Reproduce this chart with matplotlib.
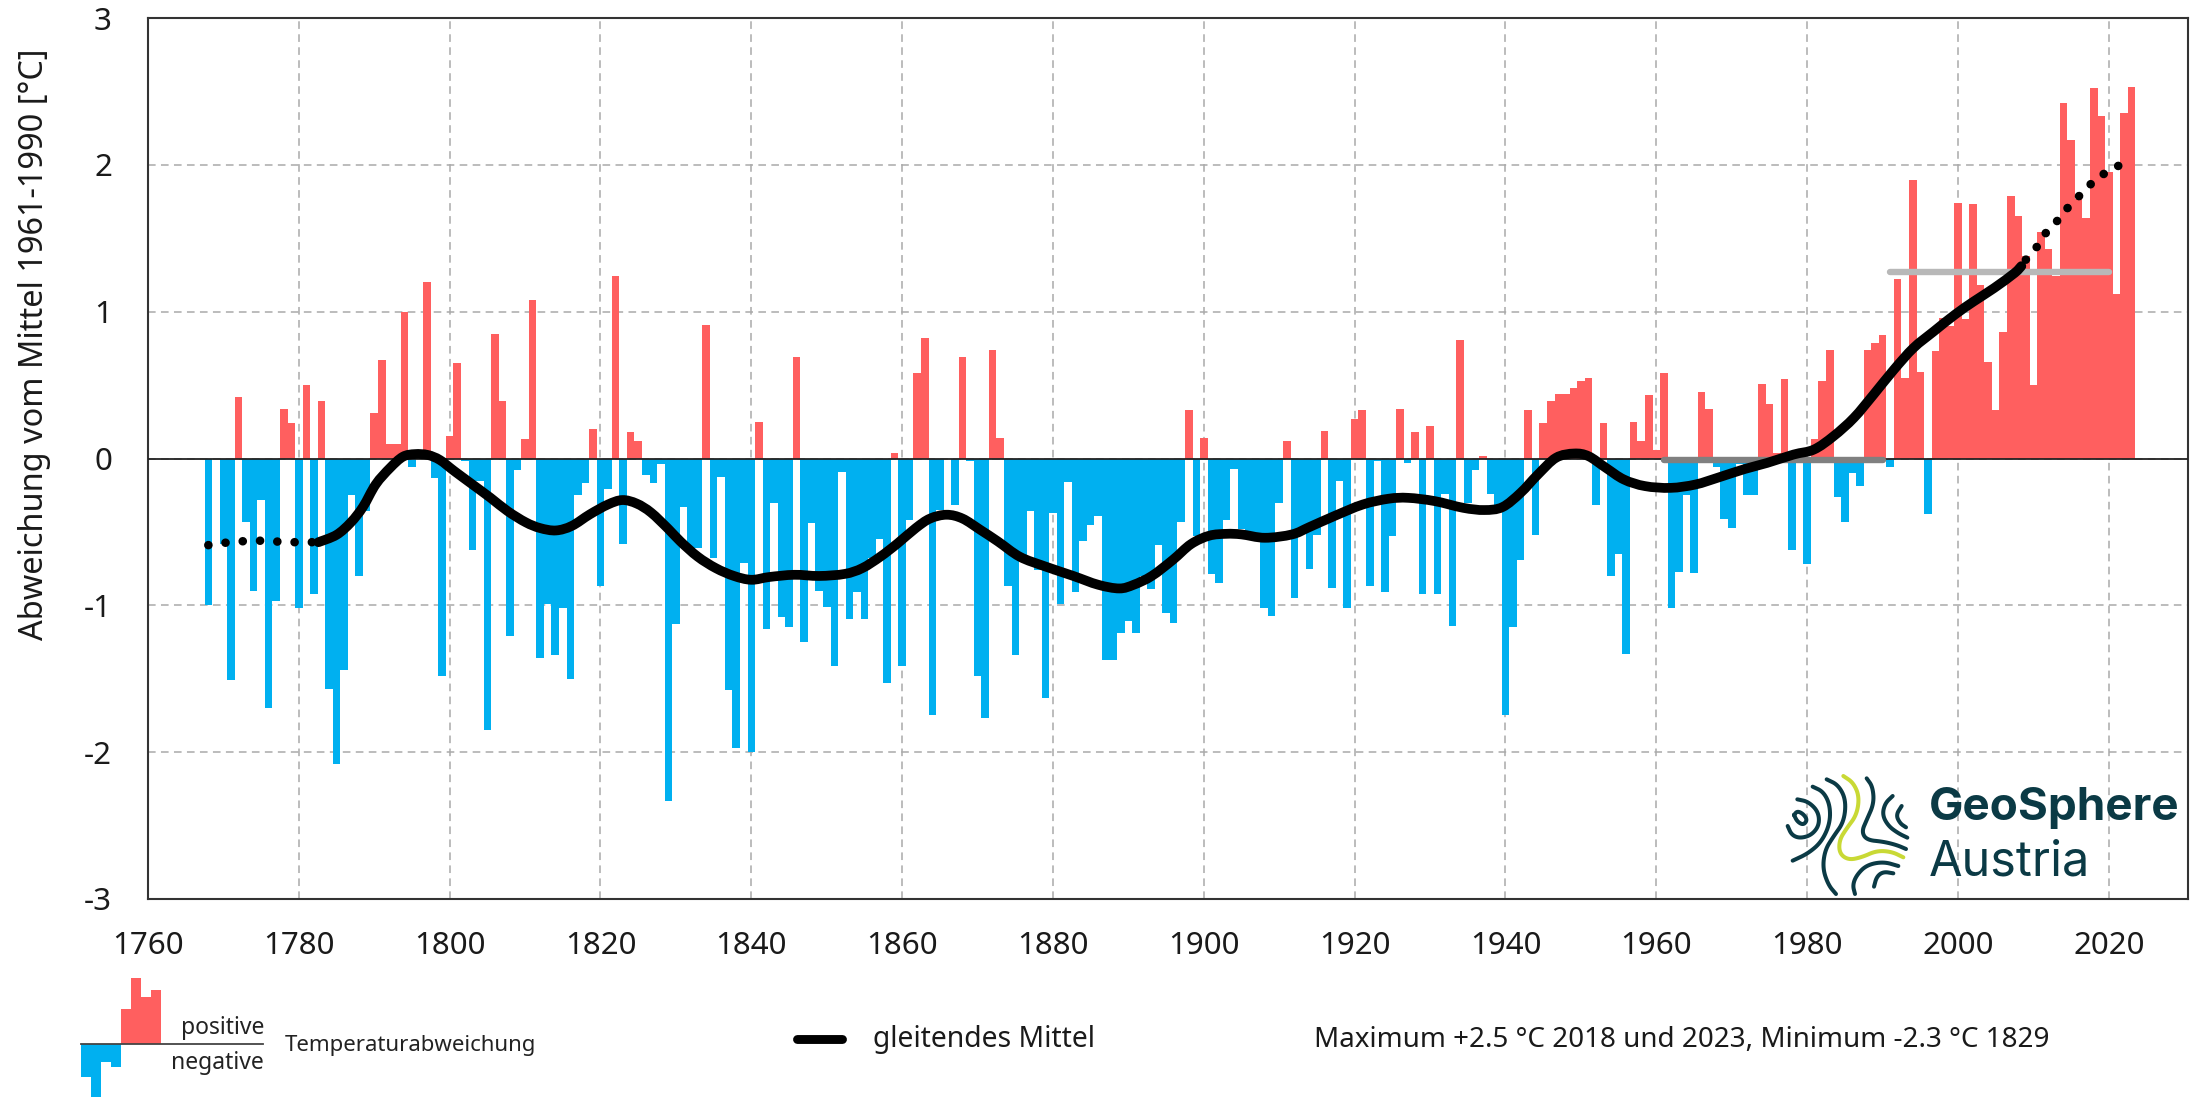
import numpy as np
import matplotlib
matplotlib.use('Agg')
import matplotlib.pyplot as plt
from matplotlib.path import Path
from matplotlib.patches import PathPatch

plt.rcParams['font.family'] = ['Noto Sans', 'DejaVu Sans']
plt.rcParams['axes.unicode_minus'] = False

W, H = 2190, 1097

# yearly anomaly, one row per decade, first row starts 1768
years = np.arange(1768, 2024)
anomaly = [
    -1.0, 0, -.58, -1.51, .42, -.43, -.9, -.28, -1.7, -.97, .34, .24,
    -1.02, .5, -.92, .39, -1.57, -2.08, -1.44, -.25, -.8, -.36,
    .31, .67, .1, .1, 1.0, -.06, 0, 1.2, -.13, -1.48,
    .15, .65, -.02, -.62, -.15, -1.85, .85, .39, -1.21, -.08,
    .13, 1.08, -1.36, -.99, -1.34, -1.02, -1.5, -.25, -.17, .2,
    -.87, -.21, 1.24, -.58, .18, .12, -.11, -.17, -.04, -2.33,
    -1.13, -.33, -.64, -.61, .91, -.68, -.125, -1.58, -1.97, -.71,
    -2.0, .25, -1.16, -.3, -1.08, -1.15, .69, -1.25, -.44, -.9,
    -1.01, -1.41, -.09, -1.09, -.91, -1.09, -.68, -.55, -1.53, .04,
    -1.41, -.42, .58, .82, -1.75, -.35, 0, -.32, .69, -.02,
    -1.48, -1.77, .74, .14, -.87, -1.34, -.7, -.36, -.76, -1.63,
    -.37, -.99, -.16, -.91, -.56, -.45, -.39, -1.37, -1.37, -1.19,
    -1.11, -1.19, -.8, -.89, -.59, -1.05, -1.12, -.43, .33, -.53,
    .14, -.79, -.85, -.42, -.07, -.48, -.5, -.52, -1.02, -1.07,
    -.3, .12, -.95, -.51, -.75, -.52, .19, -.88, -.15, -1.02,
    .27, .33, -.87, -.02, -.91, -.53, .34, -.03, .18, -.92,
    .22, -.92, -.24, -1.14, .81, -.3, -.08, .02, -.24, -.34,
    -1.75, -1.15, -.69, .33, -.52, .24, .39, .44, .44, .48,
    .53, .55, -.32, .24, -.8, -.65, -1.33, .25, .12, .43,
    .06, .58, -1.02, -.77, -.25, -.78, .45, .34, -.06, -.41,
    -.47, -.04, -.25, -.25, .51, .37, .04, .54, -.62, 0,
    -.72, .13, .53, .74, -.26, -.43, -.1, -.19, .74, .79,
    .84, -.06, 1.22, .55, 1.9, .59, -.38, .73, .96, .9,
    1.74, .95, 1.73, 1.18, .66, .33, .86, 1.79, 1.65, 1.38,
    .5, 1.54, 1.43, 1.24, 2.42, 2.17, 1.77, 1.64, 2.52, 2.33,
    1.95, 1.12, 2.35, 2.53,
]
anomaly = np.array(anomaly)
assert len(anomaly) == len(years)

# moving average
start_x = [1768, 1770, 1772, 1774, 1776, 1778, 1780, 1782.6]
start_y = [-.59, -.575, -.565, -.56, -.56, -.57, -.57, -.57]
mid_x = [1782.6, 1785, 1786.9, 1788.5, 1790.2, 1792.1, 1793.8, 1795.4, 1797.1, 1798.7,
         1800.6, 1803, 1805.4, 1807.7, 1810.1, 1812, 1814.1, 1816.2, 1818.6, 1821,
         1822.9, 1824.8, 1826.7, 1829, 1830.6, 1832.9, 1835.3, 1837.7, 1840, 1842.4,
         1845.7, 1849, 1852.4, 1854.7, 1857.1, 1859.4, 1861.8, 1863.7, 1865.9, 1868,
         1870.4, 1872.7, 1875.6, 1878.9, 1882.7, 1886, 1888.8, 1890.7, 1893.1, 1895.9,
         1898.3, 1900.7, 1903, 1905, 1908.1, 1911.7, 1914, 1917.3, 1921.1, 1924.5,
         1927.1, 1930.6, 1934.4, 1937.2, 1939.6, 1942, 1944.3, 1946.7, 1949.1, 1951,
         1953.3, 1955.7, 1958.5, 1961.9, 1965.2, 1968.2, 1971.7, 1974.7, 1978.2, 1980.9,
         1983.5, 1986.2, 1988.8, 1991.5, 1994.1, 1996.8, 1999.6, 2002.1, 2004.8, 2007.5,
         2008.4]
mid_y = [-.57, -.52, -.435, -.33, -.176, -.064, .012, .03, .024, -.01,
         -.085, -.176, -.267, -.359, -.435, -.474, -.49, -.459, -.38, -.313,
         -.283, -.307, -.368, -.48, -.565, -.669, -.747, -.80, -.826, -.807,
         -.792, -.80, -.786, -.747, -.669, -.578, -.474, -.409, -.383, -.409,
         -.487, -.565, -.669, -.734, -.80, -.86, -.885, -.86, -.80, -.69,
         -.583, -.526, -.513, -.517, -.54, -.517, -.467, -.392, -.313, -.274,
         -.268, -.29, -.336, -.351, -.331, -.234, -.109, .005, .034, .016,
         -.063, -.143, -.188, -.2, -.177, -.13, -.072, -.03, .027, .061,
         .152, .277, .435, .605, .753, .866, .98, 1.07, 1.161, 1.263,
         1.31]
end_x = [2009, 2010.5, 2011.7, 2013.3, 2014.7, 2016.3, 2017.9, 2019.7, 2021.8]
end_y = [1.354, 1.444, 1.54, 1.626, 1.717, 1.80, 1.884, 1.952, 2.007]

# climate normals
norm_old_x = [1961, 1990]
norm_old_y = [-.01, -.01]
norm_new_x = [1991, 2020]
norm_new_y = [1.27, 1.27]

x_ticks = list(range(1760, 2021, 20))
y_ticks = [-3, -2, -1, 0, 1, 2, 3]

# little sample bars in the legend, heights in pixels
key_pos = [35, 66, 47, 54]
key_neg = [33, 53, 18, 23]

RED = '#ff5f5f'
BLUE = '#00b0f0'
DARK = '#0b3a45'
GREEN = '#c9d935'

# logo strands, picture coordinates relative to the logo box
logo_strands = [
    ([222, 232, 250, 262, 250, 232, 222], [225, 213, 222, 240, 255, 245, 225], DARK),
    ([232, 265, 295, 298, 275, 240, 215, 203], [178, 185, 215, 255, 285, 295, 285, 258], DARK),
    ([278, 310, 330, 330, 305, 265, 218], [140, 155, 195, 250, 305, 340, 362], DARK),
    ([320, 355, 378, 372, 340, 315, 308, 325, 348], [118, 135, 180, 245, 290, 330, 385, 435, 462], DARK),
    ([440, 458, 462, 440, 425, 440, 490, 530, 558], [115, 140, 190, 240, 275, 300, 305, 315, 327], DARK),
    ([518, 495, 487, 505, 535, 562], [168, 190, 225, 258, 280, 293], DARK),
    ([545, 528, 540, 558], [198, 225, 250, 262], DARK),
    ([535, 490, 440, 410, 398, 405], [378, 365, 375, 405, 435, 462], DARK),
    ([520, 490, 470, 462], [400, 395, 410, 440], DARK),
    ([370, 400, 418, 410, 380, 358, 358, 385, 425, 470, 515, 550],
     [108, 128, 170, 225, 265, 300, 340, 360, 352, 332, 335, 352], GREEN),
]


def smooth(xs, ys, rounds=3):
    # corner cutting, the logo only needs to look round
    pts = np.column_stack([xs, ys]).astype(float)
    for _ in range(rounds):
        q = pts[:-1] * 0.75 + pts[1:] * 0.25
        r = pts[:-1] * 0.25 + pts[1:] * 0.75
        mid = np.empty((len(q) * 2, 2))
        mid[0::2] = q
        mid[1::2] = r
        pts = np.vstack([pts[0], mid, pts[-1]])
    return pts[:, 0], pts[:, 1]


def curve_path(xs, ys):
    # bezier through the read points so the line has no corners
    p = np.column_stack([xs, ys]).astype(float)
    verts = [p[0]]
    codes = [Path.MOVETO]
    for i in range(len(p) - 1):
        a = p[max(i - 1, 0)]
        d = p[min(i + 2, len(p) - 1)]
        verts += [p[i] + (p[i + 1] - a) / 6, p[i + 1] - (d - p[i]) / 6, p[i + 1]]
        codes += [Path.CURVE4] * 3
    return Path(verts, codes)


fig = plt.figure(figsize=(W / 100, H / 100), dpi=100, facecolor='white')
ax = fig.add_axes([148 / W, 1 - 899 / H, (2188 - 148) / W, (899 - 18) / H])

ax.bar(years, anomaly, width=1.0, color=[RED if v > 0 else BLUE for v in anomaly],
       linewidth=0, zorder=2)
ax.axhline(0, color='#222222', lw=1.3, zorder=3)

ax.plot(norm_old_x, norm_old_y, color='#808080', lw=4.6, solid_capstyle='round', zorder=4)
ax.plot(norm_new_x, norm_new_y, color='#b8b8b8', lw=4.6, solid_capstyle='round', zorder=4)

ax.add_patch(PathPatch(curve_path(mid_x, mid_y), facecolor='none', edgecolor='black',
                       lw=7.0, capstyle='round', zorder=5))
ax.plot(start_x, start_y, color='black', lw=6.2, linestyle=(0, (0.01, 2.0)),
        dash_capstyle='round', zorder=5)
ax.plot(end_x, end_y, color='black', lw=6.2, linestyle=(0, (0.01, 1.92)),
        dash_capstyle='round', zorder=5)

ax.set_xlim(1760, 2030.5)
ax.set_ylim(-3, 3)
ax.set_xticks(x_ticks)
ax.set_yticks(y_ticks)
ax.grid(True, color='#aaaaaa', lw=1.1, linestyle=(0, (5, 3.5)), zorder=0)
ax.set_axisbelow(True)
ax.tick_params(length=0, labelsize=22.5, pad=23, colors='#1a1a1a')
ax.tick_params(axis='y', pad=26)
for s in ax.spines.values():
    s.set_color('#333333')
    s.set_linewidth(1.5)

# everything outside the plot is placed in figure pixels
over = fig.add_axes([0, 0, 1, 1], facecolor='none')
over.set_xlim(0, W)
over.set_ylim(H, 0)
over.axis('off')

over.text(35, 640, 'Abweichung vom Mittel 1961-1990 [°C]', rotation=90, fontsize=23.4,
          ha='center', va='bottom', color='#1a1a1a')

# legend key
key_left, key_w, key_base = 81, 10, 1044
for i, h in enumerate(key_neg):
    over.bar(key_left + key_w * (i + 0.5), h, width=key_w, bottom=key_base, color=BLUE, linewidth=0)
for i, h in enumerate(key_pos):
    over.bar(key_left + key_w * (i + 4.5), -h, width=key_w, bottom=key_base, color=RED, linewidth=0)
over.plot([81, 263], [key_base, key_base], color='#444444', lw=1.3)
over.text(264, 1028, 'positive', fontsize=16.5, ha='right', va='center', color='#222222')
over.text(264, 1063, 'negative', fontsize=16.5, ha='right', va='center', color='#222222')
over.text(285, 1045, 'Temperaturabweichung', fontsize=16, ha='left', va='center', color='#222222')

over.plot([797, 842], [1039, 1039], color='black', lw=6.4, solid_capstyle='round')
over.text(873, 1040, 'gleitendes Mittel', fontsize=20.4, ha='left', va='center', color='#1a1a1a')
over.text(1314, 1040, 'Maximum +2.5 °C 2018 und 2023, Minimum -2.3 °C 1829', fontsize=20,
          ha='left', va='center', color='#1a1a1a')

# logo
for xs, ys, col in logo_strands:
    sx, sy = smooth(xs, ys)
    over.plot(1720 + sx / 3, 740 + sy / 3, color=col, lw=2.9, solid_capstyle='round')
over.text(1929, 808, 'GeoSphere', family='Inter', fontweight='bold', fontsize=33, color=DARK,
          ha='left', va='center')
over.text(1929, 863, 'Austria', family='Inter', fontsize=35, color=DARK, ha='left', va='center')

fig.savefig('out.png', dpi=100)
